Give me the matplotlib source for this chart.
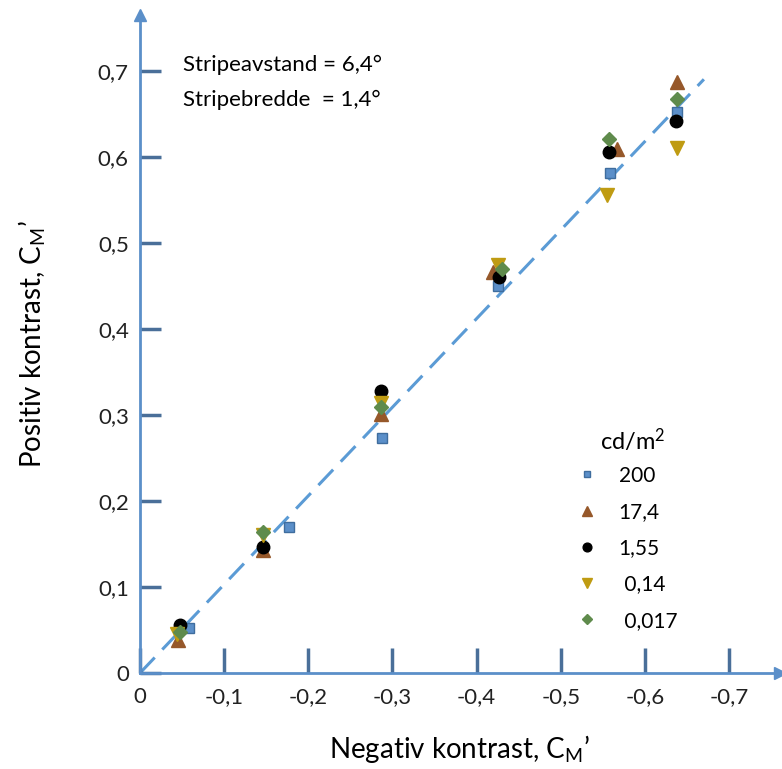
import matplotlib
matplotlib.use("Agg")
import matplotlib.pyplot as plt
from matplotlib.ticker import FuncFormatter

plt.rcParams['font.family'] = ['Lato', 'DejaVu Sans']
plt.rcParams['mathtext.fontset'] = 'custom'
plt.rcParams['mathtext.rm'] = 'Lato'
plt.rcParams['mathtext.it'] = 'Lato:italic'

# luminance levels (cd/m2) and measured contrast thresholds
levels = ["200", "17,4", "1,55", " 0,14", " 0,017"]
neg_200 = [-0.058, -0.177, -0.288, -0.425, -0.559, -0.638]
pos_200 = [0.052, 0.170, 0.273, 0.450, 0.581, 0.652]
neg_17 = [-0.045, -0.146, -0.286, -0.420, -0.567, -0.638]
pos_17 = [0.038, 0.143, 0.301, 0.466, 0.609, 0.687]
neg_155 = [-0.047, -0.146, -0.286, -0.427, -0.557, -0.637]
pos_155 = [0.056, 0.147, 0.328, 0.460, 0.606, 0.642]
neg_014 = [-0.044, -0.146, -0.286, -0.425, -0.555, -0.638]
pos_014 = [0.045, 0.160, 0.314, 0.474, 0.556, 0.610]
neg_0017 = [-0.047, -0.146, -0.286, -0.430, -0.557, -0.638]
pos_0017 = [0.048, 0.164, 0.309, 0.469, 0.621, 0.667]

# reference line (equal contrast)
ref_x = [0, -0.67]
ref_y = [0, 0.69]

xticks = [0, -0.1, -0.2, -0.3, -0.4, -0.5, -0.6, -0.7]
yticks = [0, 0.1, 0.2, 0.3, 0.4, 0.5, 0.6, 0.7]

axis_col = "#5b8fc9"
tick_col = "#4a6f99"

fig = plt.figure(figsize=(7.82, 7.69), dpi=100)
ax = fig.add_axes([0.179, 0.1248, 0.818, 0.856])

ax.plot(ref_x, ref_y, ls=(0, (7, 3.6)), color="#5b9bd5", lw=2.2, zorder=1)

series = [
    (neg_200, pos_200, "s", "#5b8fc9", "#3f6d9e", 7),
    (neg_17, pos_17, "^", "#96582a", "#96582a", 10),
    (neg_155, pos_155, "o", "#000000", "#000000", 9),
    (neg_014, pos_014, "v", "#bf9b12", "#bf9b12", 10),
    (neg_0017, pos_0017, "D", "#5f8b4c", "#5f8b4c", 7),
]
for (xs, ys, m, fc, ec, ms), lab in zip(series, levels):
    ax.plot(xs, ys, ls="none", marker=m, ms=ms, mfc=fc, mec=ec, mew=1,
            label=lab, zorder=3)

ax.set_xlim(0, -0.76)
ax.set_ylim(0, 0.765)
ax.set_xticks(xticks)
ax.set_yticks(yticks)
comma = FuncFormatter(lambda v, p: "0" if abs(v) < 1e-9 else f"{v:.1f}".replace(".", ","))
ax.xaxis.set_major_formatter(comma)
ax.yaxis.set_major_formatter(comma)
ax.tick_params(axis="x", direction="in", length=18, width=2.5, color=tick_col,
               labelsize=16, pad=10, labelcolor="#222222")
ax.tick_params(axis="y", direction="in", length=15, width=2.5, color=tick_col,
               labelsize=16, pad=8, labelcolor="#222222")

for s in ["top", "right"]:
    ax.spines[s].set_visible(False)
for s in ["left", "bottom"]:
    ax.spines[s].set_color(axis_col)
    ax.spines[s].set_linewidth(2)

# arrow heads on the axes
ax.plot(1, 0, ">", ms=9, color=axis_col, transform=ax.transAxes, clip_on=False)
ax.plot(0, 1, "^", ms=9, color=axis_col, transform=ax.transAxes, clip_on=False)

ax.set_xlabel("Negativ kontrast, C$_\\mathrm{M}$’", fontsize=20, labelpad=19)
ax.set_ylabel("Positiv kontrast, C$_\\mathrm{M}$’", fontsize=20, labelpad=36)

ax.text(0.067, 0.924, "Stripeavstand = 6,4°", transform=ax.transAxes,
        fontsize=16, va="center")
ax.text(0.067, 0.871, "Stripebredde  = 1,4°", transform=ax.transAxes,
        fontsize=16, va="center")

ax.text(0.719, 0.354, "cd/m$^\\mathrm{2}$", transform=ax.transAxes,
        fontsize=17, va="center")
ax.legend(frameon=False, loc="upper left", bbox_to_anchor=(0.667, 0.315),
          borderaxespad=0, borderpad=0, fontsize=15, markerscale=0.7,
          labelspacing=0.78, handletextpad=0.5)

fig.savefig("out.png", dpi=100)
